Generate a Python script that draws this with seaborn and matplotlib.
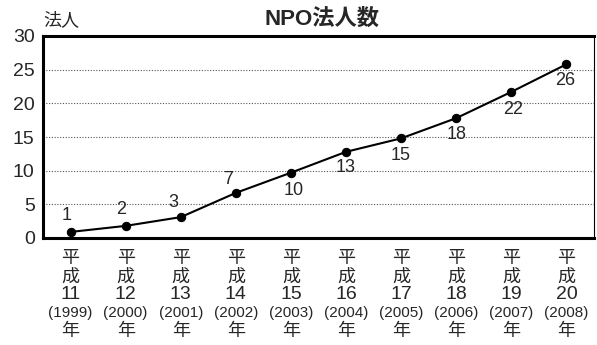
import matplotlib
matplotlib.use("Agg")
import matplotlib.pyplot as plt
import seaborn as sns
import pandas as pd
import numpy as np

heisei = ["11", "12", "13", "14", "15", "16", "17", "18", "19", "20"]
years = ["1999", "2000", "2001", "2002", "2003", "2004", "2005", "2006", "2007", "2008"]
counts = [0.9, 1.8, 3.1, 6.7, 9.7, 12.8, 14.8, 17.8, 21.7, 25.8]
labels = ["1", "2", "3", "7", "10", "13", "15", "18", "22", "26"]

sns.set_style("white")
plt.rcParams['font.family'] = ['Liberation Sans', 'Noto Sans CJK JP']
cjk = ['Noto Sans CJK JP', 'Liberation Sans']

df = pd.DataFrame({"pos": np.arange(len(years)), "count": counts})

fig = plt.figure(figsize=(5.97, 3.45), dpi=100)
ax = fig.add_axes([43/597, 1-238/345, 551/597, 202/345])

sns.lineplot(data=df, x="pos", y="count", ax=ax, color="black", lw=1.5,
             marker="o", markersize=6, markeredgecolor="black")

ax.set_xlim(-0.5, len(years) - 0.5)
ax.set_ylim(0, 30)
ax.set_yticks(range(0, 31, 5))
ax.tick_params(axis="y", labelsize=14, length=3, direction="in", width=1.2, pad=6)
ax.set_xticks(np.arange(len(years)))
ax.set_xticklabels([])
ax.tick_params(axis="x", length=0)
ax.set_xticks(np.arange(len(years) - 1) + 0.5, minor=True)
ax.tick_params(axis="x", which="minor", length=5, direction="in", width=1.2)
ax.set_xlabel("")
ax.set_ylabel("")

for v in range(5, 30, 5):
    ax.axhline(v, color="#555555", lw=0.8, ls=(0, (1, 1.5)), zorder=0)

for side in ["left", "top", "bottom"]:
    ax.spines[side].set_linewidth(2.2)
    ax.spines[side].set_color("black")
ax.spines["right"].set_linewidth(0.8)
ax.spines["right"].set_color("black")

# value labels
offsets = [(-2.5, 11.5), (-3, 11.5), (-5, 10.5), (-5.5, 9.5), (2, -13), (0, -11.5),
           (-0.5, -12.3), (0, -12), (1.2, -13), (-0.7, -12)]
for i, (lab, off) in enumerate(zip(labels, offsets)):
    ax.annotate(lab, xy=(i, counts[i]), xytext=off, textcoords="offset points",
                ha="center", va="center", fontsize=13)

# vertical x labels
tr = ax.get_xaxis_transform()
for i in range(len(years)):
    lines = [("平", -14.5, 13, cjk), ("成", -28, 13, cjk),
             (heisei[i], -41, 14, ['Liberation Sans']),
             ("(" + years[i] + ")", -54, 11, ['Liberation Sans Narrow', 'Liberation Sans']),
             ("年", -67, 13, cjk)]
    for txt, dy, fs, fam in lines:
        ax.annotate(txt, xy=(i, 0), xycoords=tr, xytext=(0, dy), textcoords="offset points",
                    ha="center", va="center", fontsize=fs, family=fam)

fig.text(322/597, 1-19/345, "NPO法人数", ha="center", va="center", fontsize=16,
         fontweight="bold", family=['Liberation Sans', 'Noto Sans CJK JP'])
fig.text(61/597, 1-20/345, "法人", ha="center", va="center", fontsize=13, family=cjk)

fig.savefig("out.png", dpi=100)
